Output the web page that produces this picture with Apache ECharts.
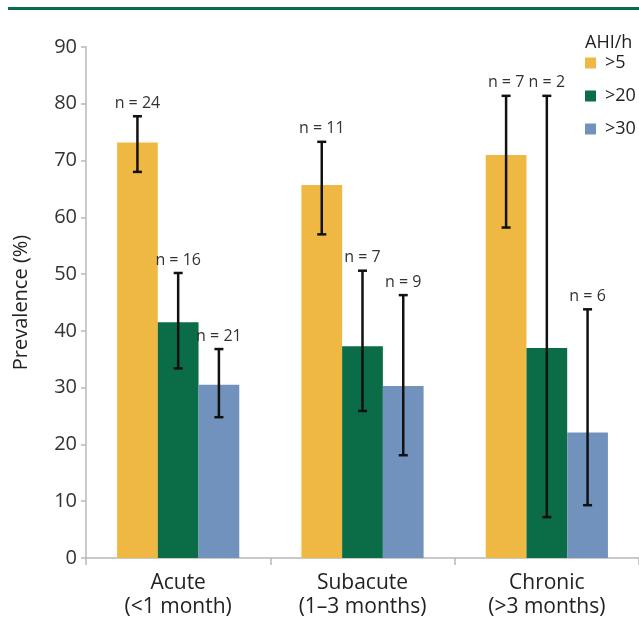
<!DOCTYPE html>
<html>
<head>
<meta charset="utf-8">
<script src="https://cdn.jsdelivr.net/npm/echarts@6/dist/echarts.min.js"></script>
<style>html,body{margin:0;padding:0;background:#fff;}#c{width:639px;height:619px;}</style>
</head>
<body>
<div id="c"></div>
<script>
var categories = ['Acute\n(<1 month)', 'Subacute\n(1\u20133 months)', 'Chronic\n(>3 months)'];
var seriesNames = ['>5', '>20', '>30'];
var yTicks = [0, 10, 20, 30, 40, 50, 60, 70, 80, 90];

var gt5 = [73.2, 65.7, 71.0];
var gt5Low = [68.0, 57.0, 58.2];
var gt5High = [77.8, 73.3, 81.4];
var gt5N = [24, 11, 7];

var gt20 = [41.5, 37.3, 37.0];
var gt20Low = [33.4, 25.9, 7.2];
var gt20High = [50.2, 50.6, 81.4];
var gt20N = [16, 7, 2];

var gt30 = [30.5, 30.3, 22.1];
var gt30Low = [24.8, 18.1, 9.3];
var gt30High = [36.8, 46.3, 43.8];
var gt30N = [21, 9, 6];

var colors = ['#EFB843', '#0A6D47', '#7292BE'];
var FONT = '"Open Sans", "Noto Sans", sans-serif';
var CAT_GAP = 0.337;

var values = [gt5, gt20, gt30];
var lows = [gt5Low, gt20Low, gt30Low];
var highs = [gt5High, gt20High, gt30High];
var ns = [gt5N, gt20N, gt30N];

function errData(k) {
  return categories.map(function (c, i) { return [i, lows[k][i], highs[k][i], ns[k][i]]; });
}

function makeRender(k) {
  return function (params, api) {
    var ci = api.value(0);
    var lo = api.coord([ci, api.value(1)]);
    var hi = api.coord([ci, api.value(2)]);
    var catW = api.size([1, 0])[0];
    var bw = catW * (1 - CAT_GAP) / 3;
    var x = lo[0] + (k - 1) * bw;
    var cap = 4.5;
    var st = { stroke: '#111', lineWidth: 2.5 };
    return {
      type: 'group',
      children: [
        { type: 'line', shape: { x1: x, y1: hi[1], x2: x, y2: lo[1] }, style: st },
        { type: 'line', shape: { x1: x - cap, y1: hi[1], x2: x + cap, y2: hi[1] }, style: st },
        { type: 'line', shape: { x1: x - cap, y1: lo[1], x2: x + cap, y2: lo[1] }, style: st },
        { type: 'text', x: x, y: hi[1] - 5, style: { text: 'n = ' + api.value(3), fill: '#333', font: '16px ' + FONT, align: 'center', verticalAlign: 'bottom' } }
      ]
    };
  };
}

var series = [];
for (var k = 0; k < 3; k++) {
  series.push({
    name: seriesNames[k], type: 'bar', data: values[k],
    barGap: '0%', barCategoryGap: (CAT_GAP * 100) + '%',
    itemStyle: { color: colors[k] }, silent: true
  });
}
for (var k2 = 0; k2 < 3; k2++) {
  series.push({
    type: 'custom', renderItem: makeRender(k2), data: errData(k2), z: 10, silent: true,
    encode: { x: 0, y: [1, 2] }
  });
}

var chart = echarts.init(document.getElementById('c'), null, { renderer: 'canvas' });
chart.setOption({
  animation: false,
  backgroundColor: '#fff',
  textStyle: { fontFamily: FONT },
  title: { text: 'AHI/h', left: 580, top: 29, textStyle: { fontSize: 18, fontWeight: 'normal', color: '#222', fontFamily: FONT } },
  legend: {
    data: seriesNames, orient: 'vertical', left: 580, top: 49,
    icon: 'rect', itemWidth: 11, itemHeight: 11, itemGap: 15,
    textStyle: { fontSize: 18, color: '#222', fontFamily: FONT, padding: [0, 0, 0, 4] },
    selectedMode: false
  },
  graphic: [
    { type: 'rect', shape: { x: 8, y: 7, width: 631, height: 3 }, style: { fill: '#0A6D47' } }
  ],
  grid: { left: 86, top: 47, width: 560, height: 511 },
  xAxis: {
    type: 'category', data: categories,
    axisLine: { lineStyle: { color: '#b8b8b8', width: 1.5 } },
    axisTick: { show: true, length: 7, lineStyle: { color: '#b8b8b8', width: 1.5 } },
    axisLabel: { fontSize: 21, color: '#222', lineHeight: 24, margin: 13, fontFamily: FONT }
  },
  yAxis: {
    type: 'value', min: 0, max: 90, interval: 10,
    name: 'Prevalence (%)', nameLocation: 'middle', nameGap: 55, nameRotate: 90,
    nameTextStyle: { fontSize: 20, color: '#222', fontFamily: FONT },
    axisLine: { show: true, lineStyle: { color: '#b8b8b8', width: 1.5 } },
    axisTick: { show: true, length: 5, lineStyle: { color: '#b8b8b8', width: 1.5 } },
    axisLabel: { fontSize: 20, color: '#333', margin: 9, fontFamily: FONT,
      formatter: function (v) { return yTicks.indexOf(v) >= 0 ? String(v) : ''; } },
    splitLine: { show: false }
  },
  series: series
});
</script>
</body>
</html>
